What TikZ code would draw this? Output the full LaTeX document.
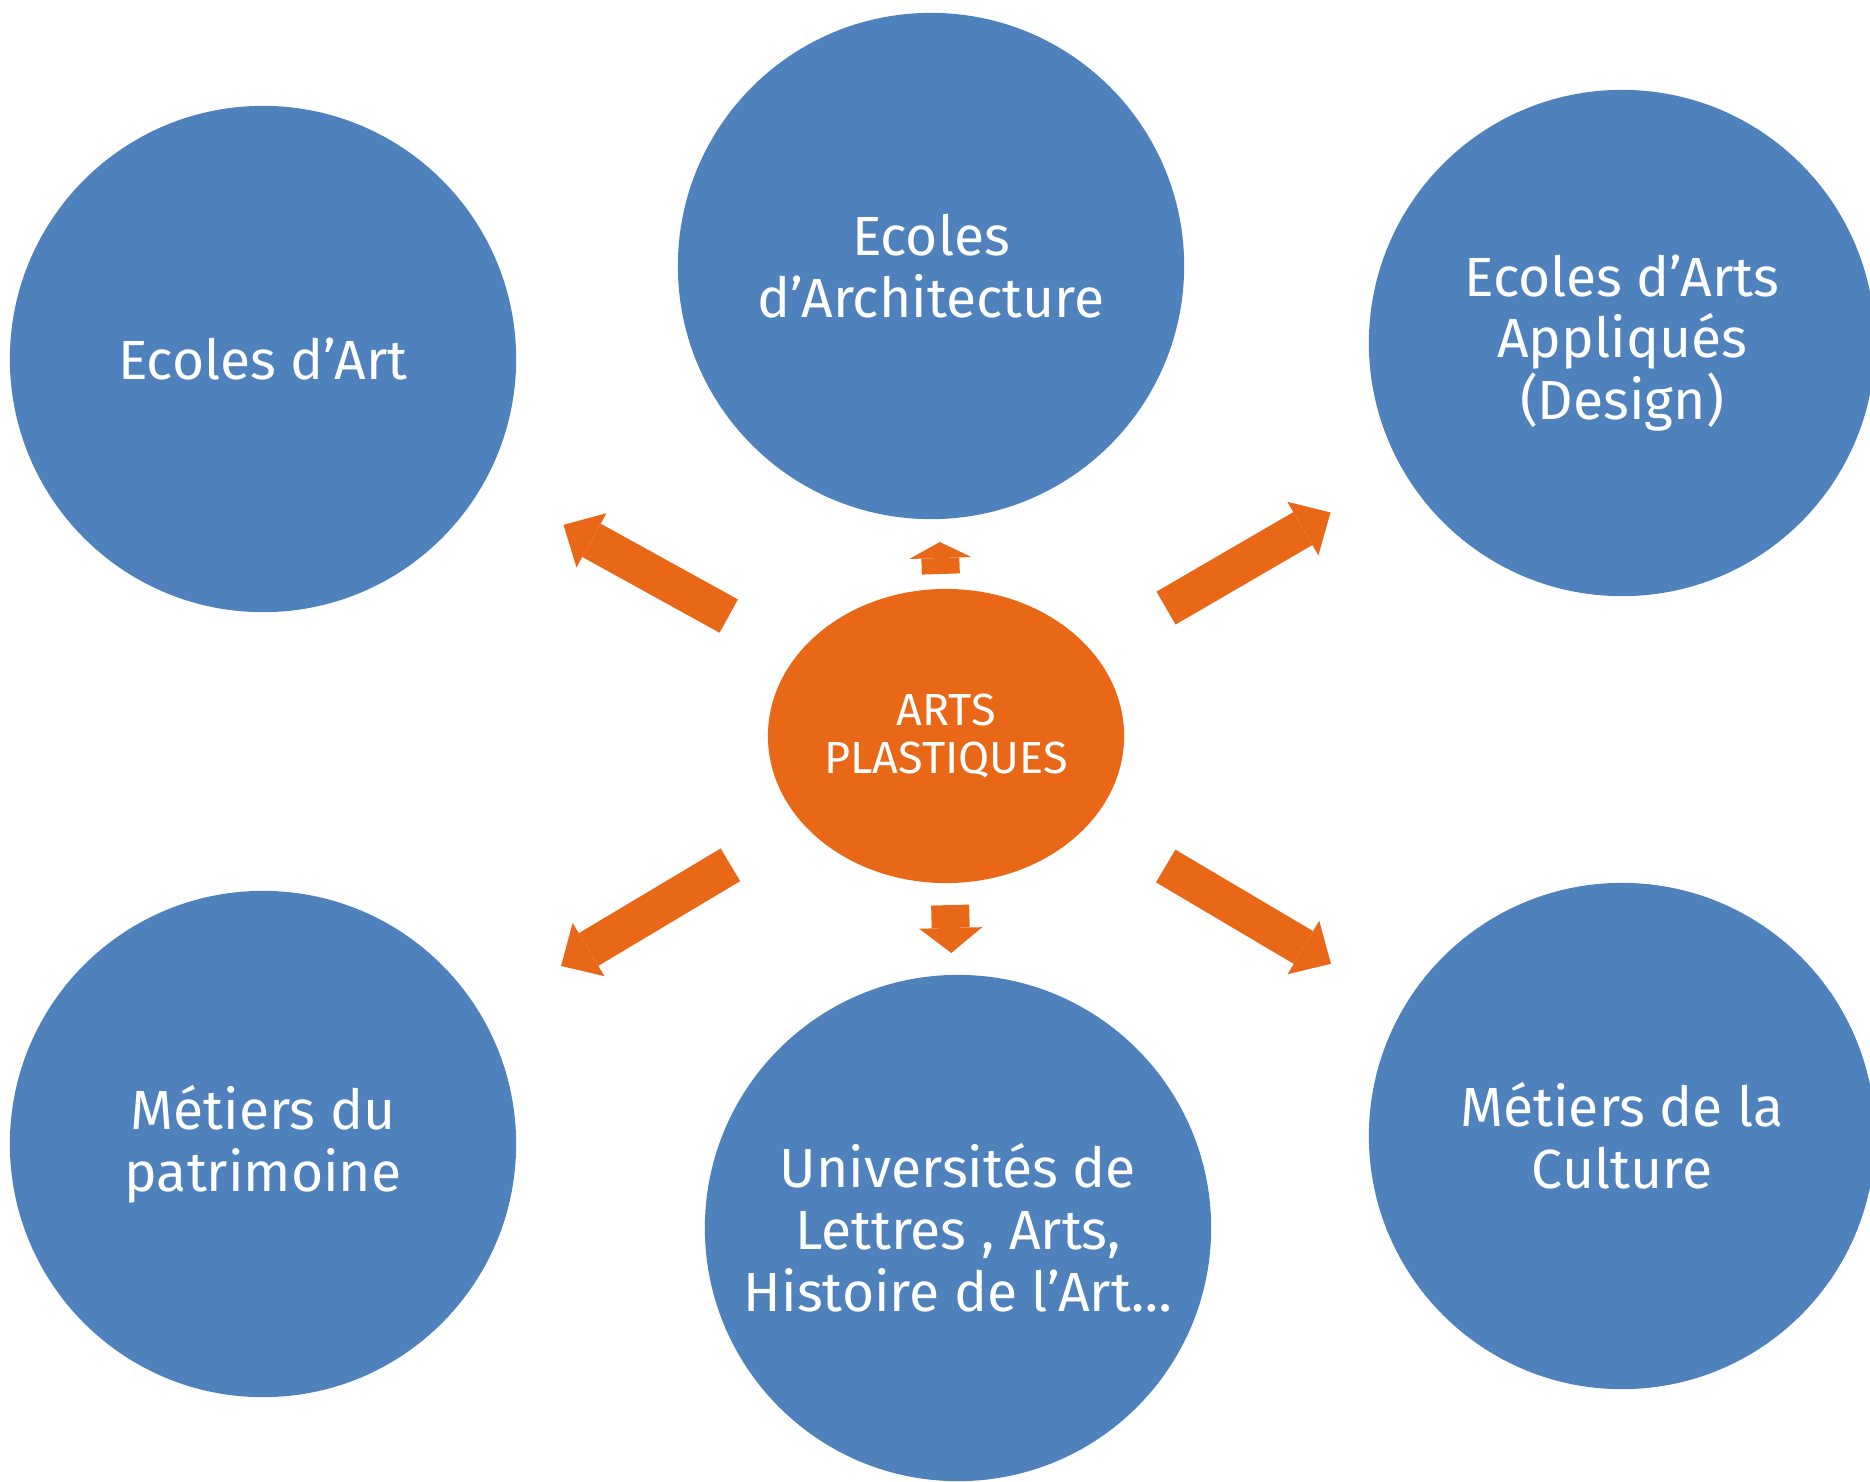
\documentclass[tikz,border=0pt]{standalone}
\usepackage{fontspec}
\setmainfont{Fira Sans}
\usetikzlibrary{arrows.meta,positioning,shapes.geometric}

\definecolor{bubbleblue}{RGB}{79,129,189}
\definecolor{arroworange}{RGB}{233,104,24}

\begin{document}
\begin{tikzpicture}[x=0.01cm,y=-0.01cm,->,>={Triangle[width=6.2mm,length=3.2mm,line width=0pt]},
  main node/.style={circle,fill=bubbleblue,minimum size=5.06cm,inner sep=0pt,outer sep=0pt,
    text=white,align=center,font=\fontsize{15.7}{17.6}\selectfont},
  centre node/.style={ellipse,fill=arroworange,minimum width=3.56cm,minimum height=2.94cm,
    inner sep=0pt,outer sep=0pt,text=white,align=center,font=\fontsize{12.8}{13.8}\selectfont}]

  \useasboundingbox (0,0) rectangle (1870,1481);

  \node[centre node] (0) at (946,736) {ARTS\\PLASTIQUES};
  \node[main node] (1) at (263,359) {Ecoles d’Art};
  \node[main node] (2) at (931,266) {Ecoles\\d’Architecture};
  \node[main node] (3) at (1622,343) {Ecoles d’Arts\\Appliqués\\(Design)};
  \node[main node] (4) at (263,1144) {Métiers du\\patrimoine};
  \node[main node] (5) at (958,1228) {Universités de\\Lettres , Arts,\\Histoire de l’Art…};
  \node[main node] (6) at (1622,1136) {Métiers de la\\Culture};

  \path[line width=3.8mm,color=arroworange]
    (0) edge [shorten <=7.9mm,shorten >=9.0mm] (1)
    (0) edge [shorten <=1.5mm,shorten >=2.3mm,>={Triangle[width=6.2mm,length=1.6mm,line width=0pt]}] (2)
    (0) edge [shorten <=8.6mm,shorten >=8.4mm] (3)
    (0) edge [shorten <=8.3mm,shorten >=9.4mm] (4)
    (0) edge [shorten <=2.2mm,shorten >=2.2mm,>={Triangle[width=6.3mm,length=2.5mm,line width=0pt]}] (5)
    (0) edge [shorten <=8.7mm,shorten >=8.5mm] (6);
\end{tikzpicture}
\end{document}
